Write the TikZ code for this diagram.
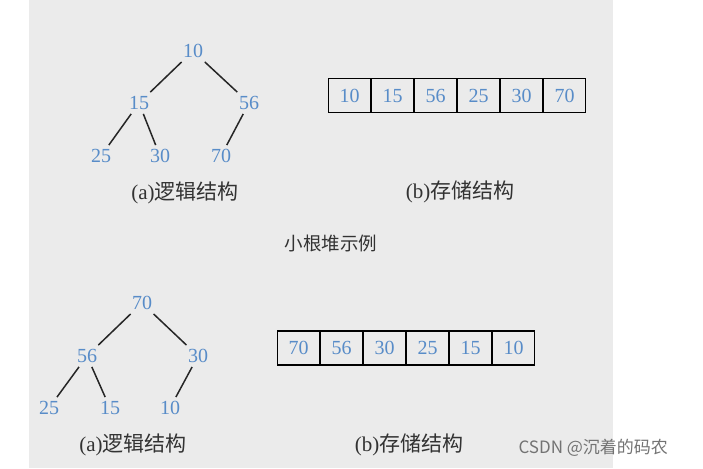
\documentclass[tikz,border=0pt]{standalone}
\usepackage{fontspec}
\setmainfont{Liberation Serif}
\newfontfamily\cjk{Noto Sans CJK SC}
\definecolor{bggrey}{RGB}{235,235,235}
\definecolor{numblue}{RGB}{88,140,200}
\definecolor{captext}{RGB}{50,50,50}
\begin{document}
\begin{tikzpicture}[x=1pt,y=-1pt,
        num/.style={inner sep=4pt,text=numblue,font=\fontsize{20}{23}\selectfont},
        cell/.style={draw,line width=1.4pt,minimum width=42pt,minimum height=34pt,inner sep=0pt,text=numblue,font=\fontsize{20}{23}\selectfont},
        link/.style={line width=1.5pt,draw=black!85},
        captxt/.style={text=captext,font=\fontsize{21}{24}\selectfont}]
            \useasboundingbox (0,0) rectangle (703,468);
            \fill[bggrey] (29,0) rectangle (613,468);

            % small root heap, logical structure
            \node[num] (t10) at (193, 51) {10};
            \node[num] (t15) at (139,103) {15};
            \node[num] (t56) at (249,103) {56};
            \node[num] (t25) at (101,156) {25};
            \node[num] (t30) at (160,156) {30};
            \node[num] (t70) at (221,156) {70};

            \draw[link] (t10) -- (t15);
            \draw[link] (t10) -- (t56);
            \draw[link] (t15) -- (t25);
            \draw[link] (t15) -- (t30);
            \draw[link] (t56) -- (t70);

            \node[captxt] (tcapa) at (185,193) {(a)\cjk 逻辑结构};

            % small root heap, storage structure
            \node[cell] (ta1) at (349.5,95.5) {10};
            \node[cell] (ta2) at (392.5,95.5) {15};
            \node[cell] (ta3) at (435.5,95.5) {56};
            \node[cell] (ta4) at (478.5,95.5) {25};
            \node[cell] (ta5) at (521.5,95.5) {30};
            \node[cell] (ta6) at (564.5,95.5) {70};

            \node[captxt] (tcapb) at (460,192) {(b)\cjk 存储结构};

            \node[captxt,font=\fontsize{18.5}{22}\selectfont\cjk] (title) at (331,243) {小根堆示例};

            % big root heap, logical structure
            \node[num] (b70) at (142,303) {70};
            \node[num] (b56) at ( 87,356) {56};
            \node[num] (b30) at (198,356) {30};
            \node[num] (b25) at ( 49,408) {25};
            \node[num] (b15) at (110,408) {15};
            \node[num] (b10) at (170,408) {10};

            \draw[link] (b70) -- (b56);
            \draw[link] (b70) -- (b30);
            \draw[link] (b56) -- (b25);
            \draw[link] (b56) -- (b15);
            \draw[link] (b30) -- (b10);

            \node[captxt] (bcapa) at (133,445) {(a)\cjk 逻辑结构};

            % big root heap, storage structure
            \node[cell] (ba1) at (298.5,348) {70};
            \node[cell] (ba2) at (341.5,348) {56};
            \node[cell] (ba3) at (384.5,348) {30};
            \node[cell] (ba4) at (427.5,348) {25};
            \node[cell] (ba5) at (470.5,348) {15};
            \node[cell] (ba6) at (513.5,348) {10};

            \node[captxt] (bcapb) at (409,445) {(b)\cjk 存储结构};

            \node[anchor=west,text=black!55,font=\fontsize{17}{20}\selectfont\cjk] (mark) at (515,448) {CSDN @沉着的码农};

        \end{tikzpicture}
\end{document}
